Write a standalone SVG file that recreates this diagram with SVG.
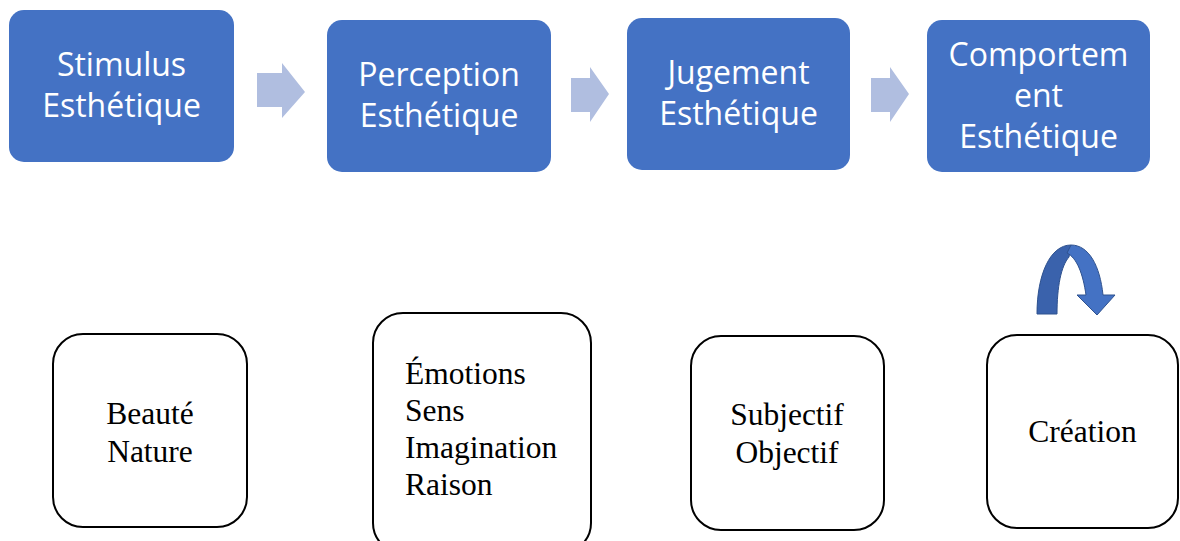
<svg xmlns="http://www.w3.org/2000/svg" width="1180" height="541" viewBox="0 0 1180 541">
<style>
.top{fill:#4472C4}
.tt{font-family:"Open Sans","Liberation Sans",sans-serif;font-size:32px;fill:#FFFFFF;text-anchor:middle}
.arr{fill:#B0BEE0}
.bot{fill:#FFFFFF;stroke:#000000;stroke-width:2}
.bt{font-family:"Liberation Serif","Times New Roman",serif;font-size:31.5px;fill:#000000}
.c{text-anchor:middle}
</style>
<rect width="1180" height="541" fill="#FFFFFF"/>
<g id="stimulus">
<rect class="top" x="9" y="10" width="225" height="152" rx="15"/>
<text class="tt" x="121.5" y="76">Stimulus</text>
<text class="tt" x="121.5" y="117">Esthétique</text>
</g>
<g id="perception">
<rect class="top" x="327" y="20" width="224" height="152" rx="15"/>
<text class="tt" x="439" y="86">Perception</text>
<text class="tt" x="439" y="127">Esthétique</text>
</g>
<g id="jugement">
<rect class="top" x="627" y="18" width="223" height="152" rx="15"/>
<text class="tt" x="738.5" y="84">Jugement</text>
<text class="tt" x="738.5" y="125">Esthétique</text>
</g>
<g id="comportement">
<rect class="top" x="927" y="20" width="223" height="152" rx="15"/>
<text class="tt" x="1038.5" y="66">Comportem</text>
<text class="tt" x="1038.5" y="107">ent</text>
<text class="tt" x="1038.5" y="148">Esthétique</text>
</g>
<g id="connectors">
<polygon class="arr" points="257,73 282,73 282,63 305,92 282,118 282,107 257,107"/>
<polygon class="arr" points="571,78 590,78 590,67 609,94 590,122 590,112 571,112"/>
<polygon class="arr" points="871,78 890,78 890,67 909,94 890,122 890,112 871,112"/>
</g>
<g id="beaute">
<rect class="bot" x="53" y="334" width="194" height="193" rx="30"/>
<text class="bt c" x="150" y="424">Beauté</text>
<text class="bt c" x="150" y="462">Nature</text>
</g>
<g id="emotions">
<rect class="bot" x="373" y="313" width="218" height="240" rx="30"/>
<text class="bt" x="405" y="384">Émotions</text>
<text class="bt" x="405" y="421">Sens</text>
<text class="bt" x="405" y="458">Imagination</text>
<text class="bt" x="405" y="495">Raison</text>
</g>
<g id="subjectif">
<rect class="bot" x="691" y="336" width="193" height="194" rx="30"/>
<text class="bt c" x="787" y="425">Subjectif</text>
<text class="bt c" x="787" y="463">Objectif</text>
</g>
<g id="creation">
<rect class="bot" x="987" y="335" width="191" height="193" rx="30"/>
<text class="bt c" x="1082.5" y="442">Création</text>
</g>
<g id="curved-arrow">
<path d="M1037,314 L1057,314 C1057,287 1061,266 1069,257 L1071,245 C1050,245 1037,275 1037,314 Z" fill="#3A62AC" stroke="#2F528F" stroke-width="1"/>
<path d="M1071,245 C1089,245 1100,266 1103,295 L1115,295 L1097,315 L1077,295 L1086,295 C1083,274 1077,258 1067,253 Z" fill="#4472C4" stroke="#2F528F" stroke-width="1"/>
</g>
</svg>
